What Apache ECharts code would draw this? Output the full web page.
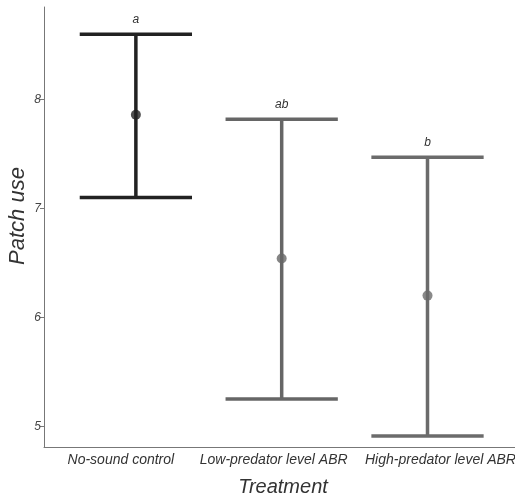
<!DOCTYPE html>
<html lang="en">
<head>
<meta charset="UTF-8">
<title>Patch use by treatment</title>
<script src="https://cdn.jsdelivr.net/npm/echarts@6/dist/echarts.min.js"></script>
<style>
  html, body { margin: 0; padding: 0; background: #fff; }
  #main { width: 515px; height: 498px; }
</style>
</head>
<body>
<div id="main"></div>
<script>
// data
var categories = ['No-sound control', 'Low-predator level ABR', 'High-predator level ABR'];
var means = [7.86, 6.54, 6.20];
var lowers = [7.10, 5.25, 4.91];
var uppers = [8.60, 7.82, 7.47];
var letters = ['a', 'ab', 'b'];
var yTicks = [5, 6, 7, 8];
var xTicks = [1, 2, 3];

// styling
var colors = ['#222222', '#666666', '#6b6b6b'];
var labelShift = [-0.103, -0.055, 0.089]; // category labels sit a bit off the bars in the original
var font = '"Liberation Sans", Arial, sans-serif';

var barData = [];
var meanData = [];
for (var i = 0; i < categories.length; i++) {
    barData.push([xTicks[i], lowers[i], uppers[i], i]);
    meanData.push({ value: [xTicks[i], means[i]], itemStyle: { color: colors[i] } });
}
var labelAt = xTicks.map(function (v, i) { return v + labelShift[i]; });

function renderBar(params, api) {
    var x = api.value(0);
    var lo = api.coord([x, api.value(1)]);
    var hi = api.coord([x, api.value(2)]);
    var idx = api.value(3);
    var half = api.size([0.385, 0])[0];
    var st = { stroke: colors[idx], lineWidth: 3.5 };
    return {
        type: 'group',
        children: [
            { type: 'line', shape: { x1: hi[0], y1: hi[1], x2: lo[0], y2: lo[1] }, style: st },
            { type: 'line', shape: { x1: hi[0] - half, y1: hi[1], x2: hi[0] + half, y2: hi[1] }, style: st },
            { type: 'line', shape: { x1: lo[0] - half, y1: lo[1], x2: lo[0] + half, y2: lo[1] }, style: st },
            { type: 'text', x: hi[0], y: hi[1] - 9,
              style: { text: letters[idx], fill: '#333', font: 'italic 12px ' + font,
                       align: 'center', verticalAlign: 'bottom' } }
        ]
    };
}

var myChart = echarts.init(document.getElementById('main'));

var option = {
    animation: false,
    grid: { left: 44, right: 0, top: 7, bottom: 51, containLabel: false, outerBoundsMode: 'none' },
    xAxis: {
        type: 'value',
        min: 0.37,
        max: 3.6,
        splitNumber: 3,
        name: 'Treatment',
        nameLocation: 'middle',
        nameGap: 30,
        nameTextStyle: { fontFamily: font, fontStyle: 'italic', fontSize: 20, color: '#333', padding: [0, 0, 0, 7] },
        axisLine: { lineStyle: { color: '#777', width: 1 } },
        axisTick: { show: false },
        splitLine: { show: false },
        axisLabel: {
            customValues: labelAt,
            margin: 6,
            hideOverlap: false,
            showMinLabel: true,
            showMaxLabel: true,
            fontFamily: font, fontStyle: 'italic', fontSize: 14, color: '#333',
            formatter: function (v) {
                for (var k = 0; k < labelAt.length; k++) {
                    if (Math.abs(v - labelAt[k]) < 1e-6) return categories[k];
                }
                return '';
            }
        }
    },
    yAxis: {
        type: 'value',
        min: 4.81,
        max: 8.85,
        name: 'Patch use',
        nameLocation: 'middle',
        nameGap: 21,
        nameMoveOverlap: false,
        nameTextStyle: { fontFamily: font, fontStyle: 'italic', fontSize: 22, color: '#333', padding: [0, 0, -6, 22] },
        axisLine: { show: true, lineStyle: { color: '#777', width: 1 } },
        axisTick: { show: true, customValues: yTicks, length: 4, lineStyle: { color: '#777' } },
        splitLine: { show: false },
        axisLabel: {
            customValues: yTicks,
            margin: 3,
            fontFamily: font, fontStyle: 'italic', fontSize: 12, color: '#444'
        }
    },
    series: [
        {
            type: 'custom',
            renderItem: renderBar,
            data: barData,
            encode: { x: 0, y: [1, 2] },
            z: 2
        },
        {
            type: 'scatter',
            data: meanData,
            symbol: 'circle',
            symbolSize: 10,
            z: 3
        }
    ]
};

myChart.setOption(option);
</script>
</body>
</html>
